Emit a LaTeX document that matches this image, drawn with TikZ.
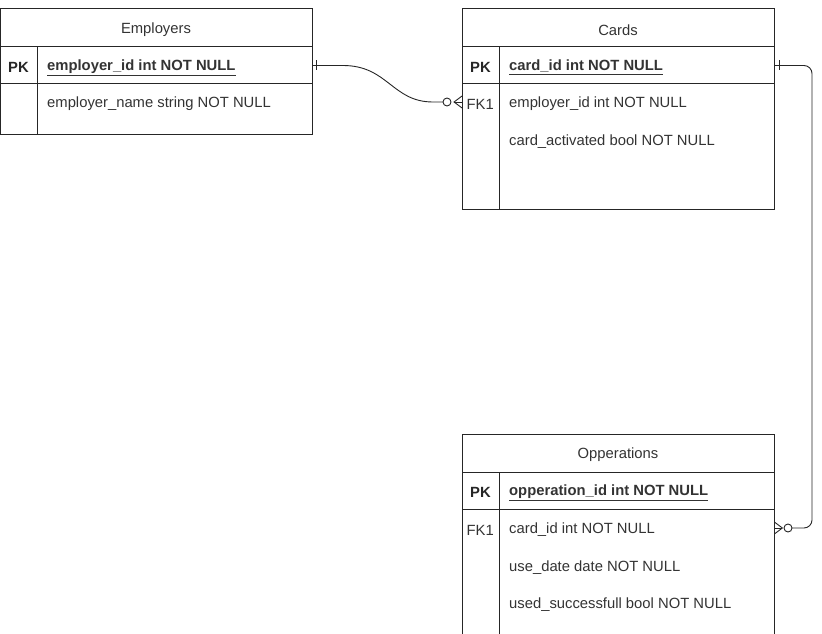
\documentclass[tikz,border=0pt]{standalone}
\usepackage{fontspec}
\setmainfont{Liberation Sans}
\usetikzlibrary{positioning}

\tikzset{
  tablebox/.style={draw=none, anchor=north west, inner sep=0pt},
  tableline/.style={line width=1pt, draw=black!85},
  title/.style={yshift=-2pt, font=\fontsize{14.8}{16}\selectfont, text=black!80},
  keylabel/.style={yshift=-2pt, font=\fontsize{14.8}{16}\selectfont\bfseries, text=black!85},
  field/.style={yshift=-2pt, anchor=west, inner sep=0pt, font=\fontsize{14.8}{16}\selectfont, text=black!80},
  keyfield/.style={field, font=\fontsize{14.8}{16}\selectfont\bfseries},
  relation/.style={line width=0.9pt, draw=black!85},
}

\begin{document}
\begin{tikzpicture}[x=1pt, y=-1pt]
    \useasboundingbox (0,0) rectangle (822,634);

    % Employers
    \node[tablebox, minimum width=311pt, minimum height=125pt] (emp-box) at (0.6,9) {};
    \draw[tableline] (emp-box.north west) rectangle (emp-box.south east);
    \draw[tableline] (0.6,47) -- (311.6,47);
    \draw[tableline] (0.6,84) -- (311.6,84);
    \draw[tableline] (37,47) -- (37,134);
    \coordinate (emp-pk-row) at (0,65.5);

    \node[title] (emp) at (156,28) {Employers};
    \node[keylabel] (emp-pk-key) at (18.5,65.5) {PK};
    \node[keyfield] (emp-pk) at (47,65.5) {\underline{employer\_id int NOT NULL}};
    \node[field] (emp-name) at (47,102) {employer\_name string NOT NULL};

    % Cards
    \node[tablebox, minimum width=312pt, minimum height=200pt] (card-box) at (462,9) {};
    \draw[tableline] (card-box.north west) rectangle (card-box.south east);
    \draw[tableline] (462,47) -- (774,47);
    \draw[tableline] (462,84) -- (774,84);
    \draw[tableline] (499,47) -- (499,209);
    \coordinate (card-pk-row) at (0,65.5);
    \coordinate (card-fk-row) at (0,102);

    \node[title] (card) at (618,28) {Cards};
    \node[keylabel] (card-pk-key) at (480.5,65.5) {PK};
    \node[keyfield] (card-pk) at (509,65.5) {\underline{card\_id int NOT NULL}};
    \node[field] (card-fk-key) at (466.5,102) {FK1};
    \node[field] (card-fk) at (509,102) {employer\_id int NOT NULL};
    \node[field] (card-act) at (509,140) {card\_activated bool NOT NULL};

    % Opperations
    \node[tablebox, minimum width=312pt, minimum height=200pt] (opp-box) at (462,434) {};
    \draw[tableline] (opp-box.south west) |- (opp-box.north east) -- (opp-box.south east);
    \draw[tableline] (462,472) -- (774,472);
    \draw[tableline] (462,509) -- (774,509);
    \draw[tableline] (499,472) -- (499,634);
    \coordinate (opp-fk-row) at (0,528);

    \node[title] (opp) at (618,453) {Opperations};
    \node[keylabel] (opp-pk-key) at (480.5,490.5) {PK};
    \node[keyfield] (opp-pk) at (509,490.5) {\underline{opperation\_id int NOT NULL}};
    \node[field] (opp-fk-key) at (466.5,528) {FK1};
    \node[field] (opp-fk) at (509,528) {card\_id int NOT NULL};
    \node[field] (opp-date) at (509,566) {use\_date date NOT NULL};
    \node[field] (opp-ok) at (509,603) {used\_successfull bool NOT NULL};

    % Employers 1 -- 0..n Cards
    \draw[relation] (emp-box.east |- emp-pk-row) -- ++(31,0)
        .. controls ++(45,0) and (392,102) .. (433,102) -- (443,102);
    \draw[relation] ([xshift=4pt]emp-box.east |- emp-pk-row) ++(0,-5) -- ++(0,10);
    \draw[relation, fill=white] (447,102) circle (4pt);
    \draw[relation] (card-box.west |- card-fk-row) ++(0,-6) -- ++(-8,6) -- ++(8,6);
    \draw[relation] (card-box.west |- card-fk-row) -- ++(-8,0);

    % Cards 1 -- 0..n Opperations
    \draw[relation, rounded corners=8pt] (card-box.east |- card-pk-row) -- (812,65.5)
        -- (812,528) -- (792,528);
    \draw[relation] ([xshift=5pt]card-box.east |- card-pk-row) ++(0,-5) -- ++(0,10);
    \draw[relation, fill=white] (788,528) circle (4pt);
    \draw[relation] (opp-box.east |- opp-fk-row) ++(0,-6) -- ++(8,6) -- ++(-8,6);
    \draw[relation] (opp-box.east |- opp-fk-row) -- ++(8,0);
\end{tikzpicture}
\end{document}
